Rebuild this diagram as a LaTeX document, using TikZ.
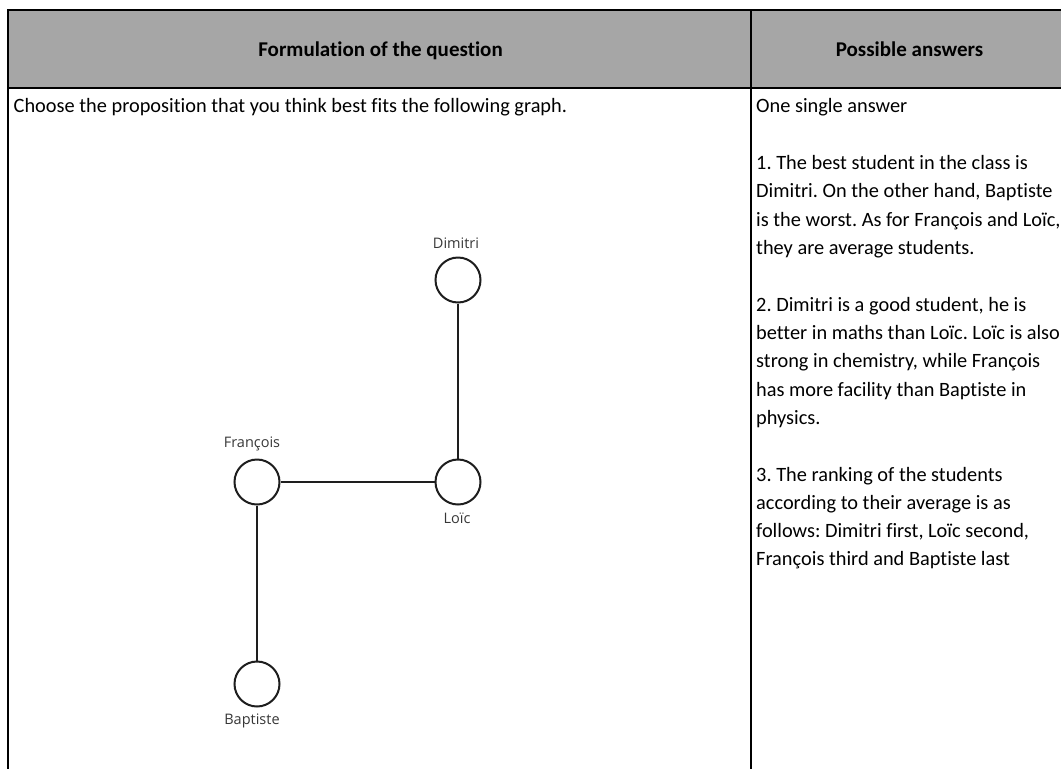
\documentclass[tikz,border=0pt]{standalone}
\usepackage{fontspec}
\setmainfont[Ligatures=NoCommon]{Carlito}
\newfontfamily\lblfont{Open Sans}
\definecolor{hdrgray}{RGB}{166,166,166}
\definecolor{lblgray}{RGB}{55,55,55}
\definecolor{circline}{RGB}{30,30,30}
\frenchspacing
\begin{document}
\begin{tikzpicture}[x=1pt,y=-1pt,
  frame/.style={line width=2.6pt,black},
  hdrtext/.style={anchor=base,inner sep=0pt,font=\fontsize{21}{25}\selectfont\bfseries},
  bodytext/.style={anchor=base west,inner sep=0pt,font=\fontsize{20.35}{24}\selectfont},
  vertex/.style={circle,draw=circline,line width=2pt,minimum size=45pt,inner sep=0pt,fill=white},
  edge/.style={draw=circline,line width=2pt},
  vlabel/.style={anchor=base,inner sep=0pt,text=lblgray,font=\lblfont\fontsize{14.5}{17}\selectfont}]
\useasboundingbox (0,0) rectangle (1061,769);
% header band
\fill[hdrgray] (8,10) rectangle (1061,88);
\draw[frame] (1061,10) -- (8,10) -- (8,769);
\draw[frame] (8,88) -- (1061,88);
\draw[frame] (751,10) -- (751,769);
% header texts
\node[hdrtext] (h1) at (380.5,56.5) {Formulation of the question};
\node[hdrtext] (h2) at (909.5,56.5) {Possible answers};
% left column text
\node[bodytext] (q) at (13.5,112.7) {Choose the proposition that you think best fits the following graph.};
% right column text
\node[bodytext] (a0) at (756,112.7) {One single answer};
\node[bodytext] (a1) at (756,169.4) {1. The best student in the class is};
\node[bodytext] (a2) at (756,197.7) {Dimitri. On the other hand, Baptiste};
\node[bodytext] (a3) at (756,226.0) {is the worst. As for François and Loïc,};
\node[bodytext] (a4) at (756,254.4) {they are average students.};
\node[bodytext] (b1) at (756,311.0) {2. Dimitri is a good student, he is};
\node[bodytext] (b2) at (756,339.3) {better in maths than Loïc. Loïc is also};
\node[bodytext] (b3) at (756,367.6) {strong in chemistry, while François};
\node[bodytext] (b4) at (756,396.0) {has more facility than Baptiste in};
\node[bodytext] (b5) at (756,424.3) {physics.};
\node[bodytext] (c1) at (756,481.0) {3. The ranking of the students};
\node[bodytext] (c2) at (756,509.3) {according to their average is as};
\node[bodytext] (c3) at (756,537.6) {follows: Dimitri first, Loïc second,};
\node[bodytext] (c4) at (756,565.9) {François third and Baptiste last};
% graph
\node[vertex] (D) at (458,280) {};
\node[vertex] (L) at (458,482) {};
\node[vertex] (F) at (257,482) {};
\node[vertex] (B) at (257,684) {};
\draw[edge] (D) -- (L);
\draw[edge] (L) -- (F);
\draw[edge] (F) -- (B);
\node[vlabel] (lD) at (456,248) {Dimitri};
\node[vlabel] (lF) at (252,447) {François};
\node[vlabel] (lL) at (457,523) {Loïc};
\node[vlabel] (lB) at (252,724) {Baptiste};
\end{tikzpicture}
\end{document}
